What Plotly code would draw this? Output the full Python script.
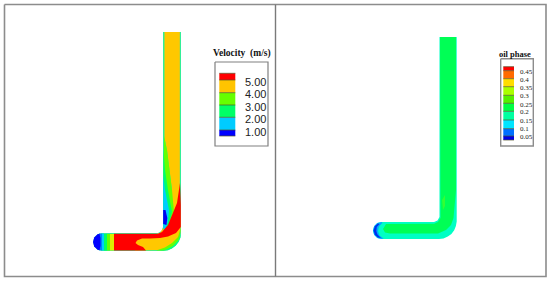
import plotly.graph_objects as go

# ---------- velocity legend ----------
vel_edges = [73.3, 80, 92.7, 105, 117.3, 130, 136]
vel_colors = ["#ff0000", "#ffc400", "#66ff00", "#00ff66", "#00ccff", "#0000ff"]
vel_labels = ["5.00", "4.00", "3.00", "2.00", "1.00"]
vel_label_y = [81.7, 94, 106.7, 119, 132]

# ---------- oil legend ----------
oil_edges = [66.7, 70.7, 78.7, 86.7, 95.3, 103.3, 111.3, 120, 128.7, 136, 140]
oil_colors = ["#ff0000", "#ff6a00", "#ffdd00", "#aaff00", "#55f000", "#00ff44",
              "#00ffa0", "#00e5ff", "#0070ff", "#0000e6"]
oil_labels = ["0.45", "0.4", "0.35", "0.3", "0.25", "0.2", "0.15", "0.1", "0.05"]
oil_label_y = [72, 80, 88, 96, 104.7, 112.3, 120.7, 129, 137.3]

# ---------- velocity field regions (left pipe) ----------
v_pipe = [(163,32),(181,32),(181,233),(180.4,237.7),(178.6,242),(175.7,245.7),(172,248.6),(167.7,250.4),
          (163,251),(102,251),(97.5,249.8),(94.2,246.5),(93,242),(94.2,237.5),(97.5,234.2),(102,233),
          (158,233),(161.5,231),(163,227)]
v_orange = [(164.5,32),(179.8,32),(179.8,184),(180.6,226),(180,236),(172,245),(160,250),(147,250.6),(135,250.6),
            (135,240),(160,233),(172,214),(172,190),(167,150),(164.5,138)]
v_lime = [(164,136),(167,150),(172,190),(174,212),(170,228),(165,232),(163.5,226),(164,190)]
v_green = [(163.5,150),(165,170),(168,190),(172,212),(168,228),(164,232),(163.2,226),(163.2,170)]
v_cyan = [(163.2,175),(165,190),(169,210),(168,222),(165,230),(163.2,228)]
v_blue = [(163.2,210),(165.5,210),(167.3,218),(166.5,225),(163.2,224)]
v_red = [(180,183),(180.8,205),(180.8,227),(176,233),(168,236.5),(160,238),(150,238.5),(142,238.5),(137,240.5),
         (135.5,243),(138,245),(143,247),(146,250.6),(114,250.6),(114,233.8),(158,233.8),(162,232),(168,225),(177,203)]
v_outer_lime = [(180.7,228),(178,237),(172,243),(165,247.5),(156,250.6),(163,250.6),(168,249.8),(172,247.9),
                (175.4,245.1),(178,241.6),(179.8,237.2),(180.5,232.8)]
v_outer_green = [(180.8,233),(178.6,240),(173,246),(166,249.6),(160,250.8),(163,250.8),(167.7,250.1),(172,248.3),
                 (175.7,245.4),(178.6,241.7),(180.4,237.5)]
v_cap_yellow = [(110,234),(114,234),(114,250.5),(110,250.5)]
v_cap_lime = [(107,234),(110,234),(110,250.5),(107,250.5)]
v_cap_green = [(104,234),(107,234),(107,250.5),(104,250.5)]
v_cap_cyan = [(102,233.5),(104,233.5),(104,250.5),(102,250.5)]
v_cap_lightblue = [(99,233.6),(102,233.5),(102,250.6),(99,250.3)]
v_cap_blue = [(97.5,234.2),(94.2,237.5),(93,242),(94.2,246.5),(97.5,249.8),(99.5,250.2),(100.5,246),(100.5,238),(99.5,233.8)]

# ---------- oil phase regions (right pipe) ----------
o_pipe = [(439.5,37),(456.7,37),(456.7,221.5),(455.9,226),(454.2,230.2),(451.4,233.9),(447.8,236.6),(443.5,238.4),
          (439,239),(381.5,239),(377.3,237.9),(374.1,234.8),(373,230.5),(374.1,226.2),(377.3,223.1),(381.5,222),
          (434,222),(437.5,220.5),(439.5,217)]
o_core = [(440,37),(456,37),(456,190),(453.5,218),(451,225),(446,230),(438,233.5),(390,233.5),(385,232.5),(383,229),
          (386,224),(434,223.8),(438,222),(440.5,218)]
o_blue_light = [(381.5,222),(377.3,223.1),(374.1,226.2),(373,230.5),(374.1,234.8),(377.3,237.9),(381.5,239),
                (383.5,238.6),(379.5,235.5),(378,231),(379,226.5),(382.5,222.8)]
o_blue = [(378,223.5),(375,226),(373.5,230.5),(375,235),(378,237.5),(381,238),(377.5,234.5),(376.3,231),(376.8,227),(379.5,224)]
o_lime = [(442,200),(445,195),(445,206),(443,210)]

fig = go.Figure()


def poly(points, color):
    fig.add_trace(go.Scatter(
        x=[p[0] for p in points] + [points[0][0]],
        y=[p[1] for p in points] + [points[0][1]],
        mode="lines", fill="toself", fillcolor=color,
        line=dict(width=0, color=color), hoverinfo="skip", showlegend=False))


def frame(x0, y0, x1, y1, color, width):
    fig.add_trace(go.Scatter(x=[x0, x1, x1, x0, x0], y=[y0, y0, y1, y1, y0], mode="lines",
                             line=dict(color=color, width=width), hoverinfo="skip", showlegend=False))


def swatches(x0, x1, edges, colors):
    for i, c in enumerate(colors):
        poly([(x0, edges[i]), (x1, edges[i]), (x1, edges[i + 1]), (x0, edges[i + 1])], c)
    for e in edges:
        fig.add_trace(go.Scatter(x=[x0, x1], y=[e, e], mode="lines",
                                 line=dict(color="#55552a", width=0.7), hoverinfo="skip", showlegend=False))


# outer frame and divider
frame(4.5, 4.5, 546, 276.5, "#8c8c8c", 1.6)
fig.add_trace(go.Scatter(x=[275.5, 275.5], y=[4.5, 276.5], mode="lines",
                         line=dict(color="#7a7a7a", width=1.4), hoverinfo="skip", showlegend=False))

# left pipe
poly(v_pipe, "#33ee99")
poly(v_orange, "#ffc800")
poly(v_lime, "#66ff00")
poly(v_green, "#00ff66")
poly(v_cyan, "#00ccff")
poly(v_blue, "#0000ee")
poly(v_red, "#ff0000")
poly(v_outer_lime, "#66ff00")
poly(v_outer_green, "#00ff88")
poly(v_cap_yellow, "#ddee00")
poly(v_cap_lime, "#66ff00")
poly(v_cap_green, "#00ff66")
poly(v_cap_cyan, "#00ccff")
poly(v_cap_lightblue, "#0080ff")
poly(v_cap_blue, "#0000ff")

# right pipe
poly(o_pipe, "#00ffc4")
poly(o_core, "#00ff55")
poly(o_blue_light, "#00aaff")
poly(o_blue, "#0030ee")
poly(o_lime, "#33ff33")

# legends
frame(215, 62, 268, 146, "#808080", 1.2)
swatches(219.3, 235.3, vel_edges, vel_colors)
frame(500.7, 58.7, 533.3, 146, "#8c8c8c", 1.4)
swatches(503.3, 514, oil_edges, oil_colors)

annotations = [
    dict(x=241.5, y=53.5, text="<b>Velocity  (m/s)</b>", font=dict(family="Liberation Serif", size=9.5, color="#111")),
    dict(x=514.5, y=54, text="<b>oil phase</b>", font=dict(family="Liberation Serif", size=8.5, color="#111")),
]
for t, y in zip(vel_labels, vel_label_y):
    annotations.append(dict(x=243, y=y, text=t, xanchor="left",
                            font=dict(family="Liberation Sans", size=11, color="#222")))
for t, y in zip(oil_labels, oil_label_y):
    annotations.append(dict(x=518, y=y, text=t, xanchor="left",
                            font=dict(family="Liberation Serif", size=7, color="#222")))
for a in annotations:
    a.update(showarrow=False, xref="x", yref="y")
    a.setdefault("xanchor", "center")
    a.setdefault("yanchor", "middle")

fig.update_layout(
    width=550, height=281, margin=dict(l=0, r=0, t=0, b=0),
    paper_bgcolor="white", plot_bgcolor="white", showlegend=False,
    annotations=annotations,
    xaxis=dict(range=[0, 550], visible=False, fixedrange=True),
    yaxis=dict(range=[281, 0], visible=False, fixedrange=True),
)
fig.write_html("out.html", config={"displayModeBar": False},
               post_script="document.body.style.margin='0';document.body.style.overflow='hidden';")
